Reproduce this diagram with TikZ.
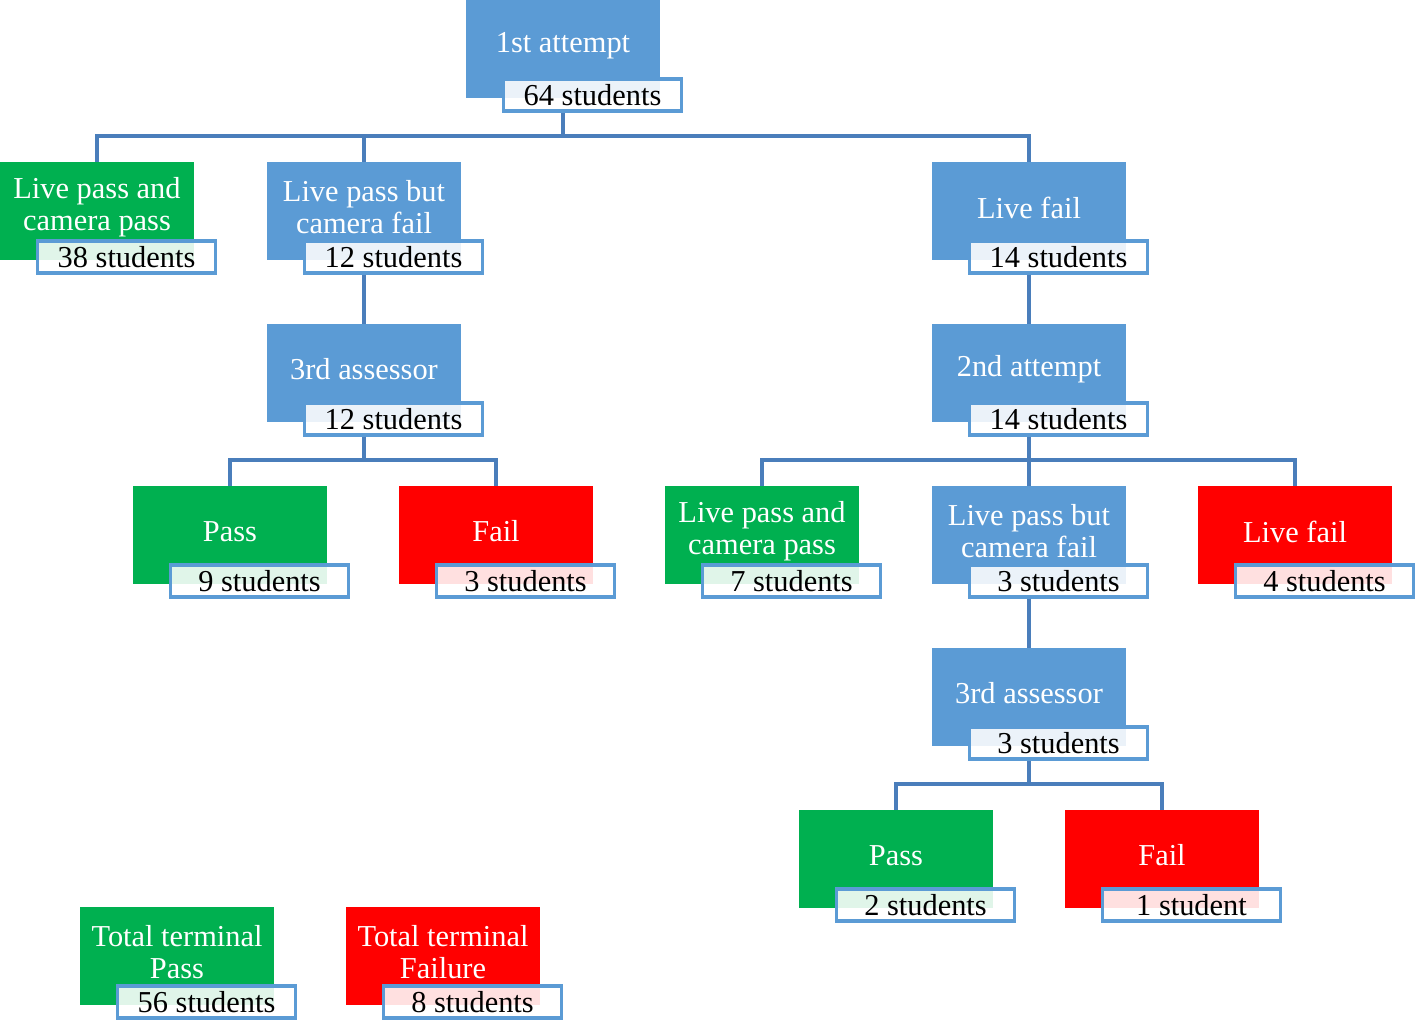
\documentclass[tikz,border=0pt]{standalone}
\usepackage{fontspec}
\setmainfont{Liberation Serif}
\definecolor{mblue}{HTML}{5B9BD5}
\definecolor{mgreen}{HTML}{00B050}
\definecolor{mred}{HTML}{FF0000}
\definecolor{lblue}{HTML}{5B9BD5}
\definecolor{cblue}{HTML}{4A7EBB}
\tikzset{
  mainbox/.style={rectangle, inner sep=0pt, minimum width=145.5pt, minimum height=73.5pt, draw=none},
  maintext/.style={text=white, align=center, font=\fontsize{22.8}{24}\selectfont, inner sep=0pt},
  labelbox/.style={rectangle, inner sep=0pt, minimum width=133pt, minimum height=24pt, draw=lblue, line width=2.4pt, fill=white, fill opacity=0.88, text opacity=1, font=\fontsize{22.8}{24}\selectfont},
  conn/.style={draw=cblue, line width=2.5pt}
}
\newcommand{\mkbox}[6]{%
  \node[mainbox, fill=#4] (#1) at (#2, #3+49) {};
  \node[maintext] (#1-t) at (#2, #3+45.5) {#5};
  \node[labelbox] (#1-l) at (#2+29.5, #3+95) {#6};
}
\begin{document}
\begin{tikzpicture}[x=0.75pt,y=-0.75pt]
\useasboundingbox (0,0) rectangle (1416,1021);
\mkbox{first}{563}{0}{mblue}{1st attempt}{64 students}
\mkbox{lpcpa}{97}{162}{mgreen}{Live pass and\\camera pass}{38 students}
\mkbox{lpcfa}{364}{162}{mblue}{Live pass but\\camera fail}{12 students}
\mkbox{lfa}{1029}{162}{mblue}{Live fail}{14 students}
\mkbox{raa}{364}{324}{mblue}{3rd assessor}{12 students}
\mkbox{sa}{1029}{324}{mblue}{2nd attempt}{14 students}
\mkbox{passa}{230}{486}{mgreen}{Pass}{9 students}
\mkbox{faila}{496}{486}{mred}{Fail}{3 students}
\mkbox{lpcpb}{762}{486}{mgreen}{Live pass and\\camera pass}{7 students}
\mkbox{lpcfb}{1029}{486}{mblue}{Live pass but\\camera fail}{3 students}
\mkbox{lfb}{1295}{486}{mred}{Live fail}{4 students}
\mkbox{rab}{1029}{648}{mblue}{3rd assessor}{3 students}
\mkbox{passb}{896}{810}{mgreen}{Pass}{2 students}
\mkbox{failb}{1162}{810}{mred}{Fail}{1 student}
\mkbox{totp}{177}{907}{mgreen}{Total terminal\\Pass}{56 students}
\mkbox{totf}{443}{907}{mred}{Total terminal\\Failure}{8 students}
% bars
\coordinate (bara) at (563,136);
\coordinate (barb) at (364,460);
\coordinate (barc) at (1029,460);
\coordinate (bard) at (1029,784);
\draw[conn] (first |- first-l.south) -- (bara);
\draw[conn] (lpcpa.north) -- (lpcpa.north |- bara) -- (lfa.north |- bara) -- (lfa.north);
\draw[conn] (lpcfa.north) -- (lpcfa.north |- bara);
\draw[conn] (lpcfa |- lpcfa-l.south) -- (raa.north);
\draw[conn] (lfa |- lfa-l.south) -- (sa.north);
\draw[conn] (raa |- raa-l.south) -- (barb);
\draw[conn] (passa.north) -- (passa.north |- barb) -- (faila.north |- barb) -- (faila.north);
\draw[conn] (sa |- sa-l.south) -- (lpcfb.north);
\draw[conn] (lpcpb.north) -- (lpcpb.north |- barc) -- (lfb.north |- barc) -- (lfb.north);
\draw[conn] (lpcfb |- lpcfb-l.south) -- (rab.north);
\draw[conn] (rab |- rab-l.south) -- (bard);
\draw[conn] (passb.north) -- (passb.north |- bard) -- (failb.north |- bard) -- (failb.north);
\end{tikzpicture}
\end{document}
